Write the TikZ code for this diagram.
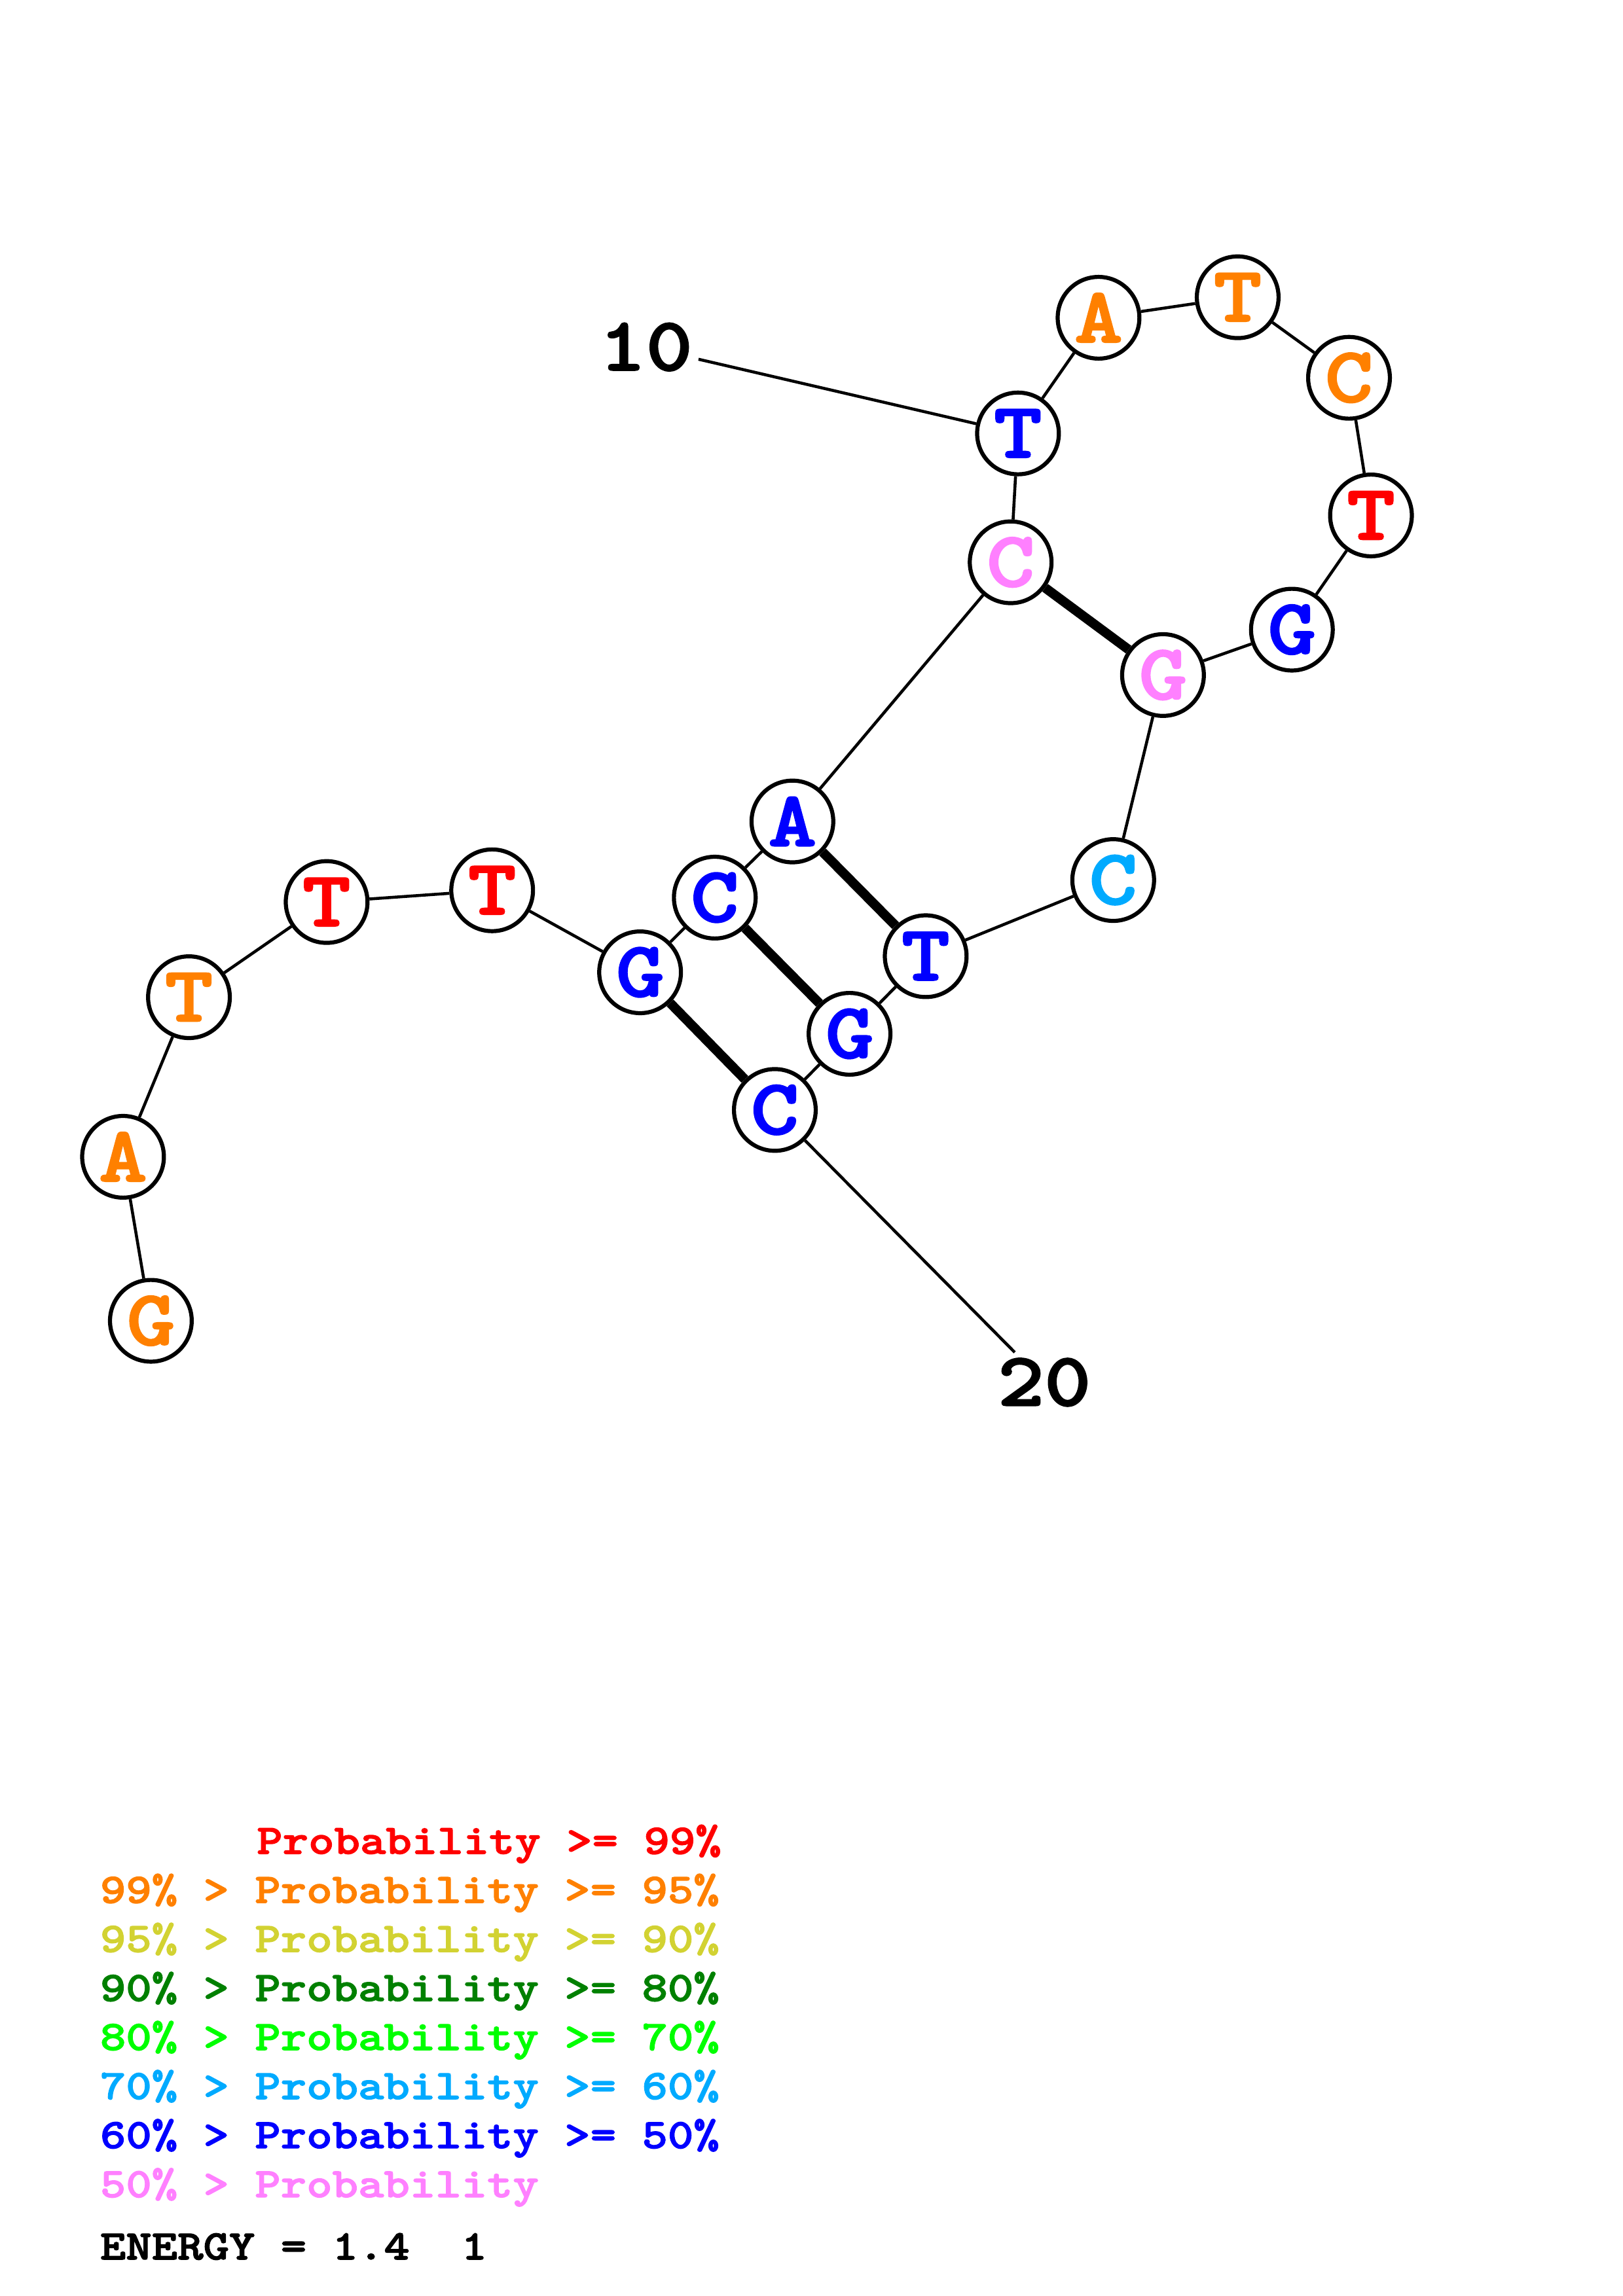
\documentclass[tikz,border=0pt]{standalone}
\usepackage{fontspec}
\newfontfamily\slabmono{Latin Modern Mono Light}[FakeStretch=1.17,BoldFeatures={FakeBold=2}]
\definecolor{p99}{RGB}{255,0,0}
\definecolor{p95}{RGB}{255,128,0}
\definecolor{p90}{RGB}{210,210,50}
\definecolor{p80}{RGB}{0,128,0}
\definecolor{p70}{RGB}{0,255,0}
\definecolor{p60}{RGB}{0,170,255}
\definecolor{p50}{RGB}{0,0,255}
\definecolor{plow}{RGB}{255,128,255}
\begin{document}
\begin{tikzpicture}[x=0.019cm,y=-0.019cm,
    base/.style={circle,draw,line width=1.5pt,fill=white,minimum size=1.06cm,inner sep=0pt,
      font=\slabmono\bfseries\fontsize{29}{29}\selectfont},
    bb/.style={line width=1.1pt},
    pair/.style={line width=3.5pt},
    num/.style={inner sep=2pt,font=\slabmono\bfseries\fontsize{28}{28}\selectfont},
    key/.style={anchor=base west,inner sep=0pt,font=\slabmono\bfseries\fontsize{15.5}{15.5}\selectfont}]
    \useasboundingbox (0,0) rectangle (1108,1568);
    \node[base,text=p95] (a) at (103,902) {G};
    \node[base,text=p95] (b) at (84,790) {A};
    \node[base,text=p95] (c) at (129,681) {T};
    \node[base,text=p99] (d) at (223,616) {T};
    \node[base,text=p99] (e) at (336,608) {T};
    \node[base,text=p50] (f) at (437,664) {G};
    \node[base,text=p50] (g) at (488,613) {C};
    \node[base,text=p50] (h) at (541,561) {A};
    \node[base,text=plow] (i) at (690,384) {C};
    \node[base,text=p50] (j) at (695,296) {T};
    \node[base,text=p95] (k) at (750,217) {A};
    \node[base,text=p95] (l) at (845,203) {T};
    \node[base,text=p95] (m) at (921,258) {C};
    \node[base,text=p99] (n) at (936,352) {T};
    \node[base,text=p50] (o) at (882,430) {G};
    \node[base,text=plow] (p) at (794,461) {G};
    \node[base,text=p60] (q) at (760,601) {C};
    \node[base,text=p50] (r) at (632,653) {T};
    \node[base,text=p50] (s) at (580,706) {G};
    \node[base,text=p50] (t) at (529,758) {C};
    \node[num] (ten) at (441,237) {10};
    \node[num] (twenty) at (713,944) {20};
    \draw[bb] (a)--(b)--(c)--(d)--(e)--(f)--(g)--(h)--(i)--(j)--(k)--(l)--(m)--(n)--(o)--(p)--(q)--(r)--(s)--(t);
    \draw[pair] (i)--(p);
    \draw[pair] (h)--(r);
    \draw[pair] (g)--(s);
    \draw[pair] (f)--(t);
    \draw[bb] (ten)--(j);
    \draw[bb] (t)--(twenty);
    % key
    \node[key,text=p99] (k1) at (175,1266) {Probability >= 99\%};
    \node[key,text=p95] (k2) at (68,1299.5) {99\% > Probability >= 95\%};
    \node[key,text=p90] (k3) at (68,1333) {95\% > Probability >= 90\%};
    \node[key,text=p80] (k4) at (68,1366.5) {90\% > Probability >= 80\%};
    \node[key,text=p70] (k5) at (68,1400) {80\% > Probability >= 70\%};
    \node[key,text=p60] (k6) at (68,1433.5) {70\% > Probability >= 60\%};
    \node[key,text=p50] (k7) at (68,1467) {60\% > Probability >= 50\%};
    \node[key,text=plow] (k8) at (68,1500.5) {50\% > Probability};
    \node[key] (energy) at (68,1543) {ENERGY = 1.4\ \ 1};
\end{tikzpicture}
\end{document}
